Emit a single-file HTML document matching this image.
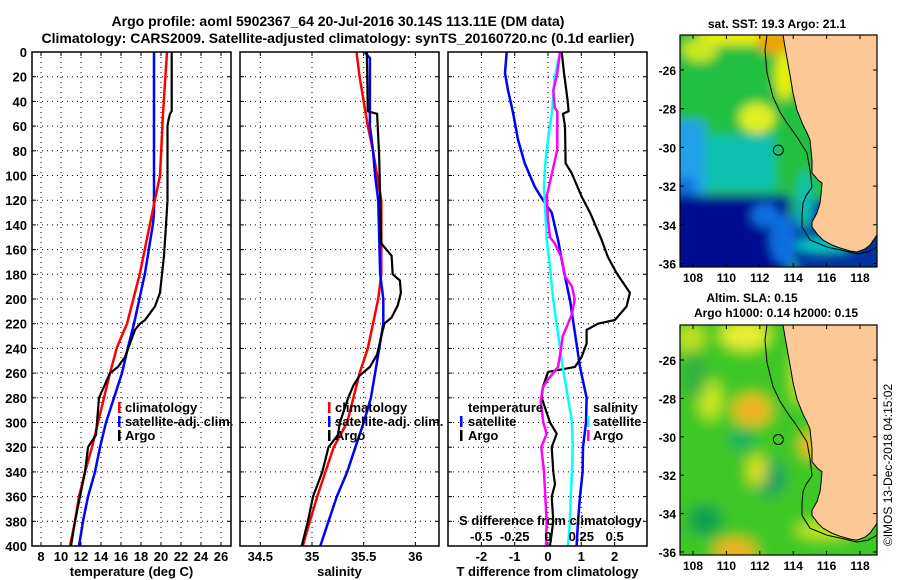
<!DOCTYPE html>
<html><head><meta charset="utf-8">
<style>
html,body{margin:0;padding:0;background:#fff;}
svg{display:block;font-family:"Liberation Sans",sans-serif;font-weight:bold;}
</style></head>
<body>
<svg id="chart" width="900" height="580" viewBox="0 0 900 580" xmlns="http://www.w3.org/2000/svg">
<defs>
<clipPath id="clipSST"><rect x="680" y="35" width="197" height="232"/></clipPath>
<clipPath id="clipSLA"><rect x="680" y="325" width="197" height="230"/></clipPath>
<filter id="blur1" x="-20%" y="-20%" width="140%" height="140%"><feGaussianBlur stdDeviation="5"/></filter>
<filter id="blur2" x="-20%" y="-20%" width="140%" height="140%"><feGaussianBlur stdDeviation="7"/></filter>
</defs>
<text x="338" y="26" font-size="14" text-anchor="middle">Argo profile: aoml 5902367_64 20-Jul-2016 30.14S 113.11E (DM data)</text>
<text x="338" y="43" font-size="14" text-anchor="middle">Climatology: CARS2009. Satellite-adjusted climatology: synTS_20160720.nc (0.1d earlier)</text>
<g id="panels"></g>
<g id="maps"></g>
<text transform="translate(892,465) rotate(-90)" font-size="12" font-weight="normal" text-anchor="middle">©IMOS 13-Dec-2018 04:15:02</text>
</svg>
<script>
// ---- data ----
const depthTicks = [0,20,40,60,80,100,120,140,160,180,200,220,240,260,280,300,320,340,360,380,400];
const tempTicks = [8,10,12,14,16,18,20,22,24,26];
const salTicks = [34.5,35,35.5,36];
const tDiffTicks = [-2,-1,0,1,2];
const sDiffTicks = [-0.5,-0.25,0,0.25,0.5];
const sDiffLabels = ["-0.5","-0.25","0","0.25","0.5"];

const argoTDepth = [0,48,50,55,60,120,140,165,195,206,217,220,225,236,247,255,260,271,280,300,310,320,340,360,380,400];
const argoTVal = [21.07,21.07,20.9,20.75,20.65,20.65,20.5,20.3,19.9,19.4,18.4,17.9,17.4,16.9,16.4,15.7,14.9,14.3,13.8,13.6,13.5,12.7,12.4,11.9,11.4,11.0];
const climTDepth = [0,50,100,139,179,220,239,260,280,300,320,340,360,380,400];
const climTVal = [20.6,20.2,19.9,18.9,17.9,16.6,15.6,14.9,14.3,13.7,13.1,12.4,11.8,11.4,10.9];
const satTDepth = [0,130,139,179,220,239,260,280,300,320,340,360,380,400];
const satTVal = [19.3,19.3,19.2,18.4,17.3,16.7,16.1,15.3,14.5,13.9,13.4,12.7,12.2,11.8];

const argoSDepth = [0,48,50,85,120,155,165,180,185,195,205,215,220,230,245,255,262,270,280,300,310,320,340,360,380,400];
const argoSVal = [35.53,35.54,35.63,35.65,35.66,35.67,35.77,35.78,35.85,35.86,35.83,35.77,35.7,35.67,35.63,35.56,35.46,35.4,35.35,35.27,35.25,35.16,35.1,35.01,34.96,34.9];
const climSDepth = [0,20,40,60,80,100,120,180,200,220,240,260,280,300,320,340,360,380,400];
const climSVal = [35.43,35.46,35.5,35.54,35.59,35.63,35.67,35.67,35.64,35.59,35.54,35.46,35.4,35.34,35.21,35.13,35.05,34.98,34.91];
const satSDepth = [0,5,60,80,100,120,180,200,220,240,260,280,300,320,340,360,380,400];
const satSVal = [35.51,35.56,35.56,35.59,35.61,35.64,35.66,35.69,35.69,35.65,35.61,35.57,35.5,35.42,35.34,35.24,35.16,35.08];

const tSatDiffDepth = [0,17,31,49,71,90,109,120,130,152,174,201,228,255,280,300,320,340,360,380,400];
const tSatDiffVal = [-1.24,-1.29,-1.2,-1.05,-0.9,-0.7,-0.4,-0.15,0.11,0.3,0.45,0.66,0.81,0.96,1.16,1.14,1.05,1.04,0.96,0.9,0.86];
const tArgoDiffDepth = [0,17,39,48,50,60,90,98,117,130,152,166,179,195,206,217,220,225,236,247,255,259,271,280,300,309,320,340,350,360,380,400];
const tArgoDiffVal = [0.41,0.48,0.59,0.62,0.45,0.51,0.53,0.71,1.01,1.26,1.61,1.8,2.06,2.46,2.36,2.01,1.5,1.16,1.16,1.01,0.81,0.0,-0.15,-0.19,0.06,0.26,0.11,0.16,0.21,0.11,0.16,0.06];
const sArgoDiffDepth = [0,17,31,45,48,79,98,117,136,150,155,166,182,190,200,212,220,230,239,255,260,265,272,283,300,309,320,340,360,380,400];
const sArgoDiffVal = [0.09,0.07,0.04,0.05,0.07,0.07,0.03,-0.01,0,0.015,0.05,0.1,0.13,0.18,0.2,0.18,0.15,0.11,0.1,0.075,0.04,0,-0.04,-0.055,-0.035,-0.01,-0.05,-0.03,-0.02,-0.01,-0.015];
const sSatDiffDepth = [0,20,49,71,90,109,130,152,174,201,228,255,280,300,320,340,360,380,400];
const sSatDiffVal = [0.09,0.05,0.03,0,-0.02,-0.03,-0.02,-0.01,0.015,0.04,0.075,0.11,0.15,0.18,0.185,0.18,0.17,0.165,0.15];

const latTicks = [-26,-28,-30,-32,-34,-36];
const lonTicks = [108,110,112,114,116,118];

// ---- helpers ----
const NS = "http://www.w3.org/2000/svg";
function mk(tag, attrs, parent){ const e=document.createElementNS(NS,tag); for(const k in attrs) e.setAttribute(k,attrs[k]); parent.appendChild(e); return e; }
const yDepth = d => 52 + d*1.235;
const PT = 52, PB = 546;
const panelsG = document.getElementById('panels');

function panel(name, x0, x1, xScale, xt, xlabels, xtitle){
  const g = mk('g',{},panelsG);
  
  
  mk('rect',{x:x0,y:PT,width:x1-x0,height:PB-PT,fill:'#fff',stroke:'none'},g);
  depthTicks.forEach((d,i)=>{
    if(i>0 && i<depthTicks.length-1){
      const gl = mk('line',{x1:x0,x2:x1,y1:yDepth(d),y2:yDepth(d),stroke:'#000','stroke-width':1,'stroke-dasharray':'1,4'},g);
      
      
    }
    mk('line',{x1:x0,x2:x0+4,y1:yDepth(d),y2:yDepth(d),stroke:'#000','stroke-width':1},g);
    mk('line',{x1:x1-4,x2:x1,y1:yDepth(d),y2:yDepth(d),stroke:'#000','stroke-width':1},g);
  });
  xt.forEach((v,i)=>{
    const x = xScale(v);
    const gl = mk('line',{x1:x,x2:x,y1:PT,y2:PB,stroke:'#000','stroke-width':1,'stroke-dasharray':'1,4'},g);
    
    
    mk('line',{x1:x,x2:x,y1:PT,y2:PT+4,stroke:'#000'},g);
    mk('line',{x1:x,x2:x,y1:PB-4,y2:PB,stroke:'#000'},g);
    const t = mk('text',{x:x,y:561,'font-size':13,'text-anchor':'middle'},g);
    t.textContent = xlabels[i];
    
    
  });
  const tt = mk('text',{x:(x0+x1)/2,y:576,'font-size':13,'text-anchor':'middle'},g);
  tt.textContent = xtitle;
  
  
  return g;
}
function series(g, name, depths, vals, xScale, color, w){
  const pts = depths.map((d,i)=> xScale(vals[i]).toFixed(1)+','+yDepth(d).toFixed(1)).join(' ');
  const p = mk('polyline',{points:pts,fill:'none',stroke:color,'stroke-width':w,'stroke-linejoin':'round'},g);
  
  
}
function frame(g,x0,x1){ mk('rect',{x:x0,y:PT,width:x1-x0,height:PB-PT,fill:'none',stroke:'#000','stroke-width':1.5},g); }
function legendItem(g,name,mx,tx,y,color,label){
  const m = mk('rect',{x:mx,y:y-10,width:2.5,height:11,fill:color},g);
  
  
  if(label){
    const t = mk('text',{x:tx,y:y,'font-size':13},g);
    t.textContent = label;
    
    
  }
}

// depth labels
depthTicks.forEach(d=>{
  const t = mk('text',{x:27,y:yDepth(d)+5,'font-size':13,'text-anchor':'end'},panelsG);
  t.textContent = d;
  
  
});

// panel 1 temperature
const xT = v => 41 + (v-8)*10;
const g1 = panel('temperature-panel',32,231,xT,tempTicks,tempTicks.map(String),'temperature (deg C)');
series(g1,'temp-satellite-line',satTDepth,satTVal,xT,'#0000ff',2.5);
series(g1,'temp-climatology-line',climTDepth,climTVal,xT,'#ff0000',2.5);
series(g1,'temp-argo-line',argoTDepth,argoTVal,xT,'#000',2.2);
frame(g1,32,231);
legendItem(g1,'legend-climatology',118,125,412,'#ff0000','climatology');
legendItem(g1,'legend-satellite-adj',118,125,426,'#0000ff','satellite-adj. clim.');
legendItem(g1,'legend-argo',118,125,440,'#000','Argo');

// panel 2 salinity
const xS = v => 312 + (v-35)*103.4;
const g2 = panel('salinity-panel',240,439,xS,salTicks,["34.5","35","35.5","36"],'salinity');
series(g2,'sal-climatology-line',climSDepth,climSVal,xS,'#ff0000',2.5);
series(g2,'sal-satellite-line',satSDepth,satSVal,xS,'#0000ff',2.5);
series(g2,'sal-argo-line',argoSDepth,argoSVal,xS,'#000',2.2);
frame(g2,240,439);
legendItem(g2,'legend-climatology',328,335,412,'#ff0000','climatology');
legendItem(g2,'legend-satellite-adj',328,335,426,'#0000ff','satellite-adj. clim.');
legendItem(g2,'legend-argo',328,335,440,'#000','Argo');

// panel 3 differences
const xTD = v => 548 + v*33.3;
const xSD = v => 548 + v*133.3;
const g3 = panel('difference-panel',448,647,xTD,tDiffTicks,tDiffTicks.map(String),'T difference from climatology');
series(g3,'tdiff-satellite-line',tSatDiffDepth,tSatDiffVal,xTD,'#0000ff',2.5);
series(g3,'tdiff-argo-line',tArgoDiffDepth,tArgoDiffVal,xTD,'#000',2.2);
series(g3,'sdiff-satellite-line',sSatDiffDepth,sSatDiffVal,xSD,'#00ffff',2.5);
series(g3,'sdiff-argo-line',sArgoDiffDepth,sArgoDiffVal,xSD,'#ff00ff',2.5);
frame(g3,448,647);
{
  const t = mk('text',{x:468,y:412,'font-size':13},g3); t.textContent='temperature';
   
  const s = mk('text',{x:593,y:412,'font-size':13},g3); s.textContent='salinity';
   
}
legendItem(g3,'legend-t-satellite',460,468,426,'#0000ff','satellite');
legendItem(g3,'legend-t-argo',460,468,440,'#000','Argo');
legendItem(g3,'legend-s-satellite',587,593,426,'#00ffff','satellite');
legendItem(g3,'legend-s-argo',587,593,440,'#ff00ff','Argo');
{
  const t = mk('text',{x:459,y:525,'font-size':13},g3); t.textContent='S difference from climatology';
   
  sDiffTicks.forEach((v,i)=>{
    const l = mk('text',{x:xSD(v),y:541,'font-size':13,'text-anchor':'middle'},g3);
    l.textContent = sDiffLabels[i];
    
    
  });
}

// ---- maps ----
const mapsG = document.getElementById('maps');
const lonX = lon => 693 + (lon-108)*16.7;
const coast = [[783,35],[785,47],[790,75],[793,93],[797,110],[803,125],[807,133],[810,140],[812,160],[812,173],[818,180],[822,183],[821,195],[820,203],[817,213],[812,222],[812,227],[818,235],[823,240],[832,245],[840,248],[850,251],[857,252],[865,249],[870,245],[877,235]];
const iso = [[767,35],[765,50],[767,73],[773,97],[780,112],[787,123],[797,137],[807,153],[810,170],[812,187],[806,196],[803,203],[802,215],[802,227],[810,240],[827,247],[845,251],[857,254],[868,252],[877,247]];
function mapPanel(name, top, bot, latY, clipId, title1, fields, filt){
  const g = mk('g',{},mapsG);
  
  
  const sh = top-35;
  const inner = mk('g',{'clip-path':'url(#'+clipId+')'},g);
  const fg = mk('g',{filter:'url(#'+filt+')'},inner);
  fields.forEach(f=>{
    if(f[0]==='r') mk('rect',{x:f[1],y:f[2]+sh,width:f[3],height:f[4],fill:f[5]},fg);
    else mk('ellipse',{cx:f[1],cy:f[2]+sh,rx:f[3],ry:f[4],fill:f[5]},fg);
  });
  const sy = y => y*(bot-top)/232 + top - 35*(bot-top)/232;
  const landPts = coast.map(p=>p[0]+','+sy(p[1]).toFixed(1)).join(' ') + ' 880,'+sy(235)+' 880,'+(top-2);
  const land = mk('polygon',{points:landPts,fill:'#fcc996',stroke:'#000','stroke-width':1},inner);
   
  const isoL = mk('polyline',{points:iso.map(p=>p[0]+','+sy(p[1]).toFixed(1)).join(' '),fill:'none',stroke:'#000','stroke-width':1},inner);
   
  const c = mk('circle',{cx:lonX(113.11),cy:latY(-30.14),r:5,fill:'none',stroke:'#000','stroke-width':1},g);
   
  mk('rect',{x:680,y:top,width:197,height:bot-top,fill:'none',stroke:'#000','stroke-width':1.2},g);
  latTicks.forEach(l=>{
    const y = latY(l);
    mk('line',{x1:680,x2:684,y1:y,y2:y,stroke:'#000'},g);
    mk('line',{x1:873,x2:877,y1:y,y2:y,stroke:'#000'},g);
    const t = mk('text',{x:676,y:y+5,'font-size':12,'text-anchor':'end'},g);
    t.textContent = l;
     
  });
  lonTicks.forEach(l=>{
    const x = lonX(l);
    mk('line',{x1:x,x2:x,y1:top,y2:top+4,stroke:'#000'},g);
    mk('line',{x1:x,x2:x,y1:bot-4,y2:bot,stroke:'#000'},g);
    const t = mk('text',{x:x,y:bot+15,'font-size':12,'text-anchor':'middle'},g);
    t.textContent = l;
     
  });
  title1.forEach(tt=>{
    const t = mk('text',{x:tt[0],y:tt[1],'font-size':12,'text-anchor':'middle'},g);
    t.textContent = tt[2];
     
  });
}
const sstFields = [
  ['r',660,20,240,280,'#20c040'],
  ['r',700,25,90,20,'#e8f000'],
  ['e',775,42,18,12,'#f0a000'],
  ['e',700,50,18,12,'#c8e820'],
  ['e',785,75,10,25,'#e8f000'],
  ['e',757,118,18,15,'#e0f020'],
  ['r',660,120,45,75,'#20a0e8'],
  ['r',705,135,70,55,'#10c0b0'],
  ['r',660,178,35,20,'#1070e0'],
  ['r',660,195,130,90,'#001090'],
  ['e',765,215,14,12,'#1070e0'],
  ['e',785,240,15,25,'#1070e0'],
  ['r',795,200,90,80,'#0030a0'],
  ['e',825,245,30,7,'#00d0c0'],
  ['e',805,200,8,30,'#10c0b0']
];
mapPanel('sst-map',35,267,l=>70+(-26-l)*19.35,'clipSST',
  [[777,28,'sat. SST: 19.3 Argo: 21.1','sst-map-title']],sstFields,'blur1');
const slaFields = [
  ['r',660,20,240,280,'#3cc828'],
  ['e',745,45,25,15,'#e8f030'],
  ['e',690,48,15,15,'#c0e020'],
  ['e',710,110,12,20,'#c8e820'],
  ['e',752,120,20,16,'#f0c020'],
  ['e',752,120,10,8,'#f0a020'],
  ['e',811,155,11,14,'#f0c020'],
  ['e',742,150,14,10,'#10b060'],
  ['e',770,188,16,18,'#10a060'],
  ['e',757,180,10,16,'#d8e020'],
  ['e',705,230,18,16,'#10a050'],
  ['e',735,260,22,12,'#f0b020'],
  ['e',695,85,12,25,'#30b040'],
  ['e',800,85,8,30,'#d0e820'],
  ['e',825,240,30,8,'#d0e820']
];
mapPanel('sla-map',325,555,l=>360+(-26-l)*19.2,'clipSLA',
  [[752,302,'Altim. SLA: 0.15','sla-map-title'],[776,317,'Argo h1000: 0.14 h2000: 0.15','sla-map-subtitle']],slaFields,'blur2');
</script>
</body></html>
